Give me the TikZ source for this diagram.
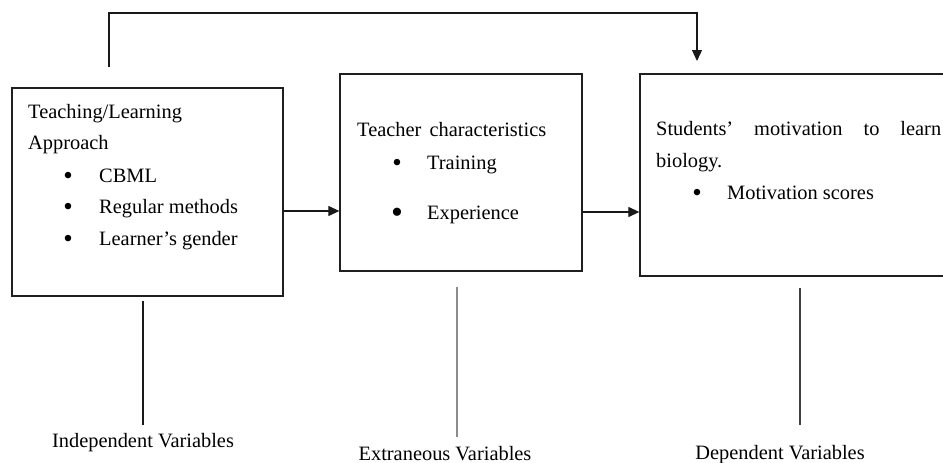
\documentclass[tikz,border=0pt]{standalone}
\usepackage{fontspec}
\setmainfont{Liberation Serif}
\usetikzlibrary{arrows.meta}
\begin{document}
\begin{tikzpicture}[x=1pt,y=-1pt,
  box/.style={draw=black!88, line width=1.3pt, inner sep=0pt, fill=none},
  txt/.style={font=\fontsize{20.4}{32}\selectfont, inner sep=0pt, anchor=base west, text=black},
  bul/.style={font=\fontsize{27}{32}\selectfont, inner sep=0pt, anchor=base},
  arr/.style={line width=1.2pt, draw=black!90, -{Triangle[length=11pt,width=10pt]}},
  vline/.style={line width=1.1pt, draw=black!90}]
\useasboundingbox (0,0) rectangle (943,463);
\clip (0,0) rectangle (943,463);
% boxes
\node[box, minimum width=271pt, minimum height=208pt] (b1) at (147.5,192) {};
\node[box, minimum width=242pt, minimum height=197pt] (b2) at (461,172.5) {};
\node[box, minimum width=320pt, minimum height=202pt] (b3) at (800,175) {};
% box 1 text
\node[txt] (t11) at (28,118) {Teaching/Learning};
\node[txt] (t12) at (28,149) {Approach};
\node[bul] (d11) at (68,184) {•};
\node[txt] (t13) at (99,182) {CBML};
\node[bul] (d12) at (68,215) {•};
\node[txt] (t14) at (99,213) {Regular methods};
\node[bul] (d13) at (68,247) {•};
\node[txt] (t15) at (99,245) {Learner’s gender};
% box 2 text
\node[txt] (t21) at (357,136) {Teacher\hspace{3pt} characteristics};
\node[bul] (d21) at (397,171) {•};
\node[txt] (t22) at (427,169) {Training};
\node[bul, font=\fontsize{34}{32}\selectfont] (d22) at (397,223) {•};
\node[txt] (t23) at (427,219) {Experience};
% box 3 text
\node[txt] (t31) at (656,135) {\makebox[285pt][s]{Students’\hfill motivation\hfill to\hfill learn}};
\node[txt] (t32) at (656,167) {biology.};
\node[bul] (d31) at (697,201) {•};
\node[txt] (t33) at (727,199) {Motivation scores};
% arrows between boxes
\coordinate (p1) at ([yshift=-19pt]b1.east);
\draw[arr] (p1) -- (p1 -| b2.west);
\coordinate (p2) at ([yshift=-39.5pt]b2.east);
\draw[arr] (p2) -- (p2 -| b3.west);
% top connector
\coordinate (s1) at (109,67);
\coordinate (s2) at (109,13);
\coordinate (s3) at (697,61);
\draw[arr] (s1) -- (s2) -| (s3);
% labels and vertical lines
\node[txt, anchor=base] (v1) at (143,447) {Independent Variables};
\node[txt, anchor=base] (v2) at (445,460) {Extraneous Variables};
\node[txt, anchor=base] (v3) at (780,459) {Dependent Variables};
\coordinate (l1t) at (143,301); \coordinate (l1b) at (143,425);
\coordinate (l2t) at (457,287); \coordinate (l2b) at (457,437);
\coordinate (l3t) at (800,288); \coordinate (l3b) at (800,425);
\draw[vline] (l1t) -- (l1b);
\draw[vline, draw=black!45, line width=2pt] (l2t) -- (l2b);
\draw[vline, draw=black!75, line width=1.3pt] (l3t) -- (l3b);
\end{tikzpicture}
\end{document}
